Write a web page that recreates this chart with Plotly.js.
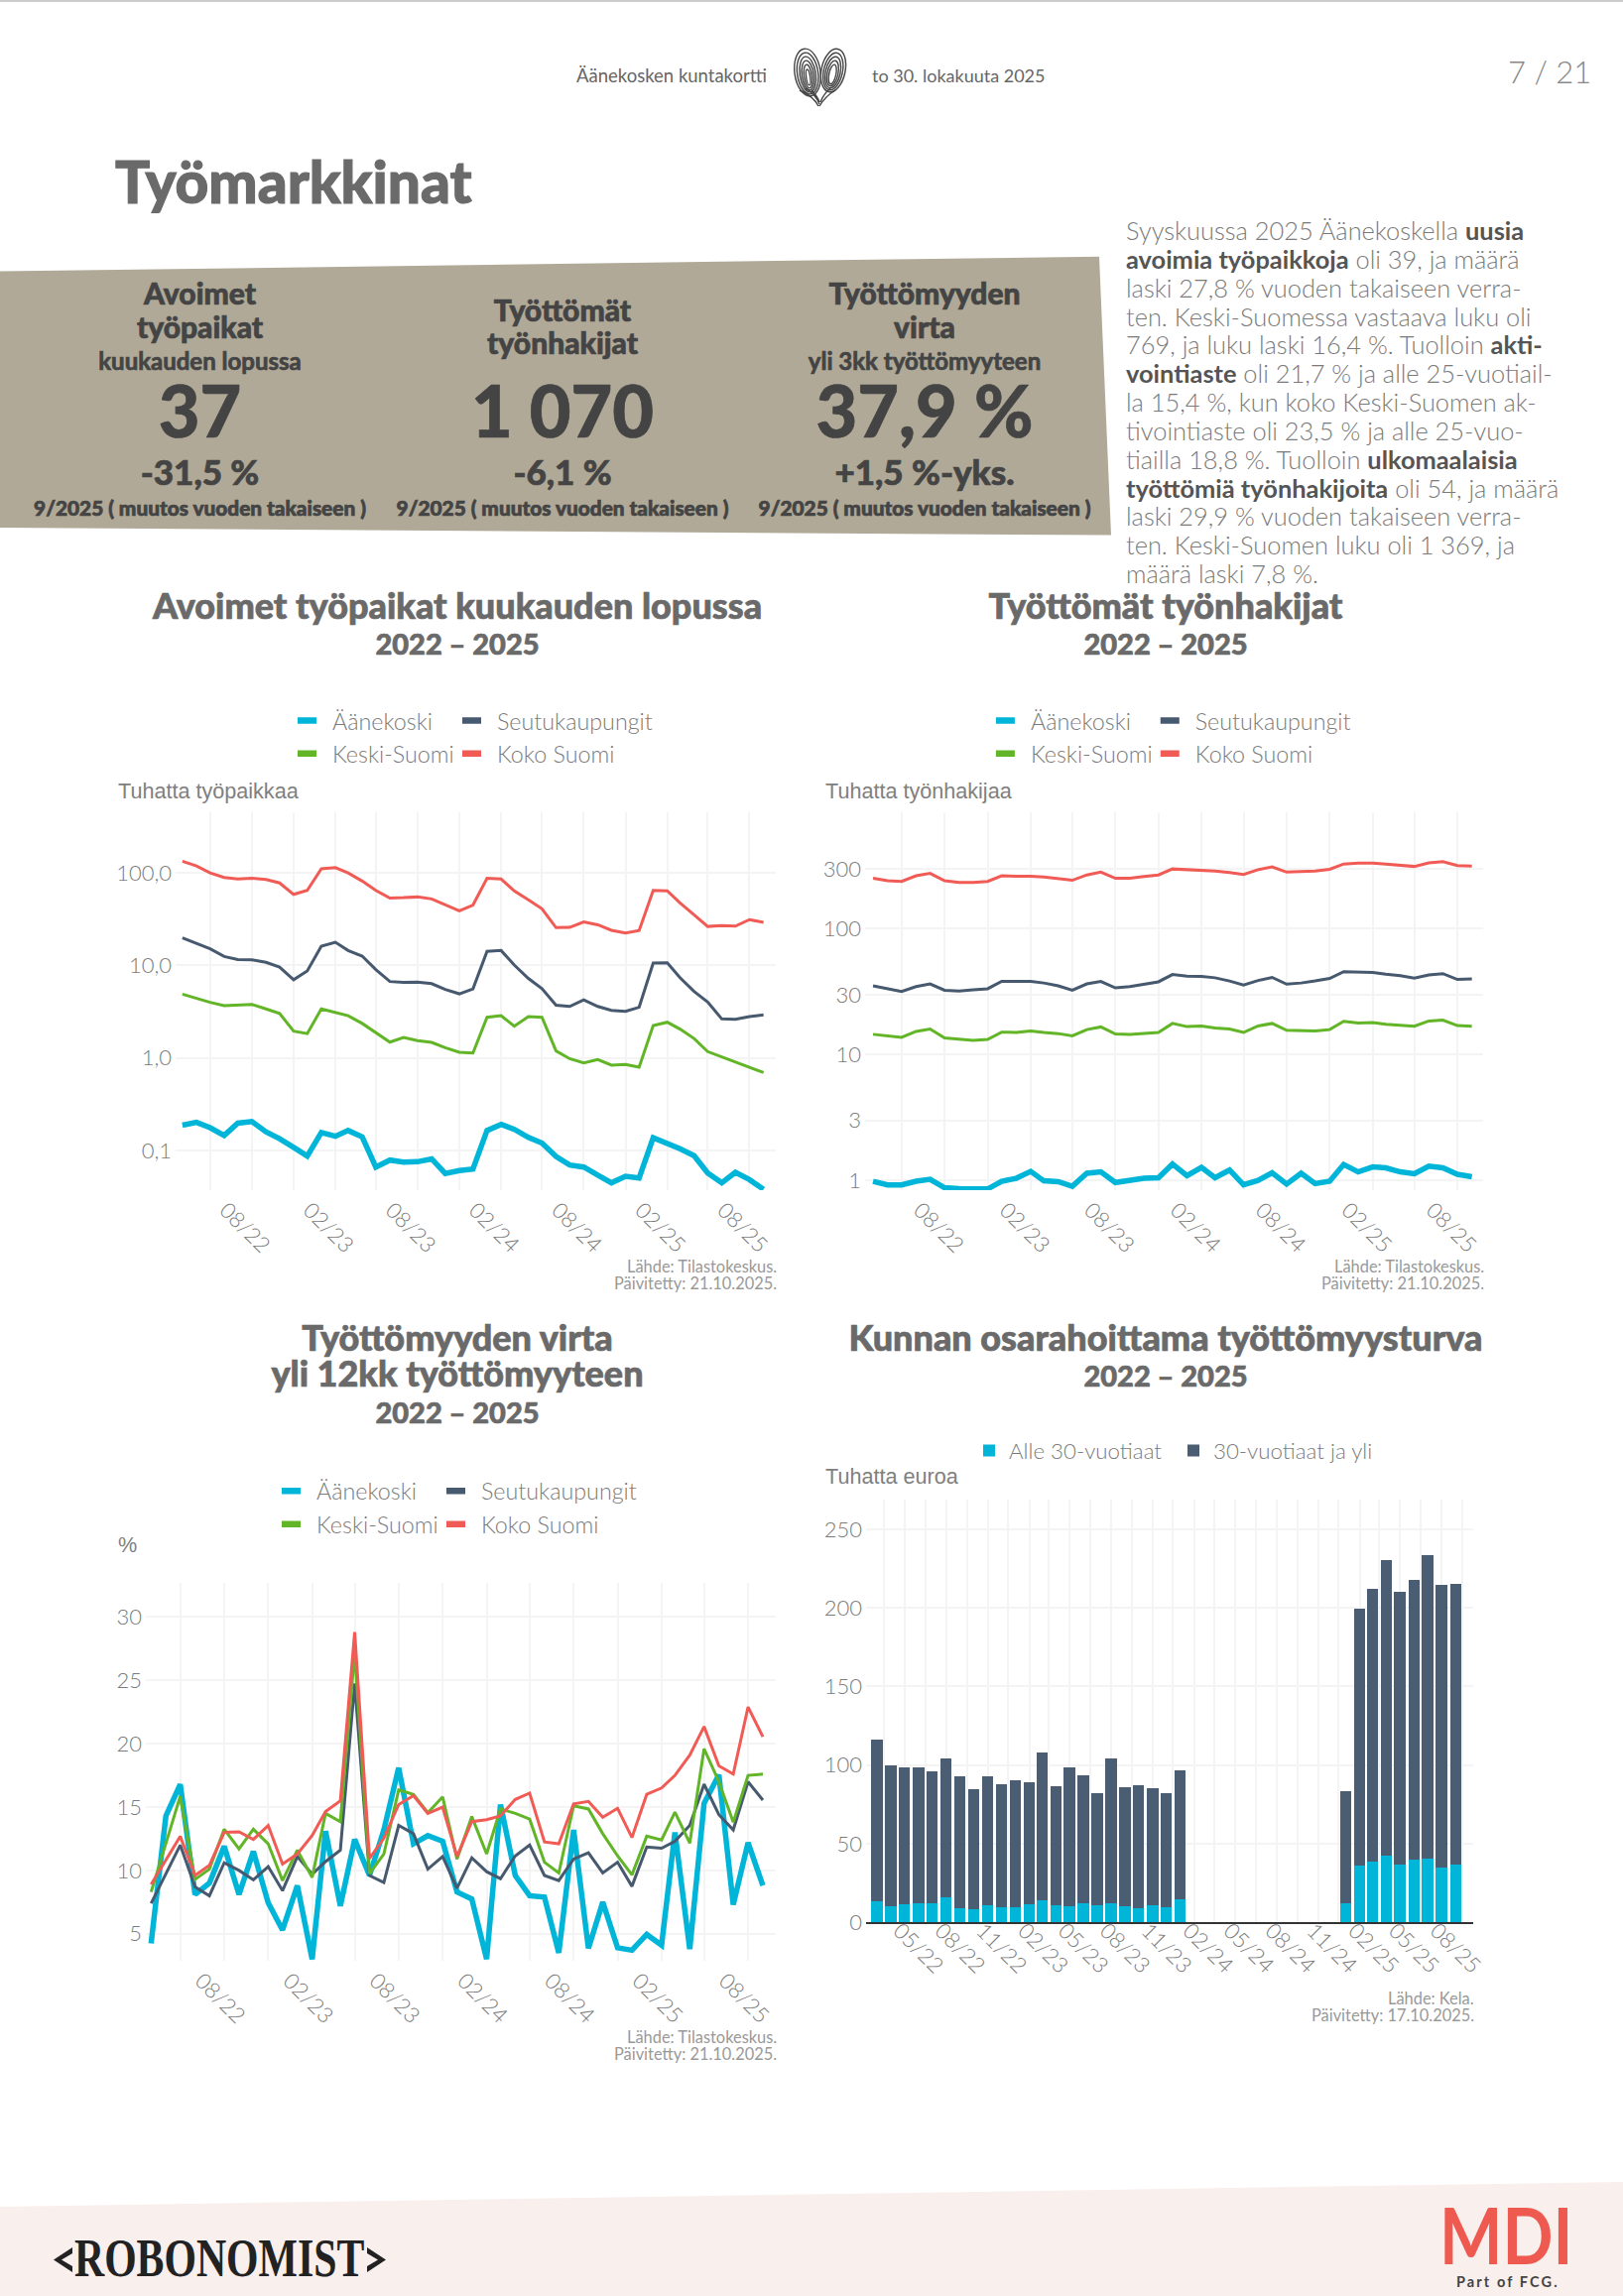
<!DOCTYPE html>
<html lang="fi"><head><meta charset="utf-8">
<script src="https://cdn.plot.ly/plotly-3.0.1.min.js"></script>
<style>
html,body{margin:0;padding:0;background:#fff}
#page{position:relative;width:1636px;height:2315px;overflow:hidden;font-family:Lato,"Noto Sans",sans-serif;color:#666}
.abs{position:absolute;white-space:nowrap}
.c{transform:translate(-50%,-50%);text-align:center}
.chart{position:absolute}
.k{color:#444;font-weight:900;-webkit-text-stroke:.7px #444}
#para{left:1135px;top:218px;font-size:25.4px;line-height:28.85px;color:#7a7a7a;font-weight:300}
#para b{color:#555;font-weight:700}
.gtitle{stroke:#6a6a6a;stroke-width:.7px}
.legendlines path{stroke-width:6.5px!important;stroke-dasharray:19 40!important}
path.legendbar{d:path("M9,9H-9V-9H9Z")}
</style></head><body>
<div id="page">
<div class="abs" style="left:0;top:0;width:1636px;height:2px;background:#ccc"></div>
<div class="abs" style="left:581px;top:65px;font-size:18.5px;color:#666">Äänekosken kuntakortti</div>
<svg class="abs" style="left:798px;top:47px" width="60" height="62" viewBox="0 0 60 62" fill="none" stroke="#444" stroke-width="1.4">
<g transform="rotate(-8 16 26)"><ellipse cx="16" cy="26" rx="13" ry="24"/><ellipse cx="16" cy="27" rx="10.5" ry="21"/><ellipse cx="16" cy="28" rx="8" ry="18"/><ellipse cx="16" cy="29" rx="6" ry="15"/><ellipse cx="16" cy="30" rx="4" ry="12"/><ellipse cx="16" cy="31" rx="2" ry="8"/></g>
<g transform="rotate(12 42 24)"><ellipse cx="42" cy="24" rx="12" ry="22"/><ellipse cx="42" cy="25" rx="9.5" ry="19"/><ellipse cx="42" cy="26" rx="7.5" ry="16"/><ellipse cx="42" cy="27" rx="5.5" ry="13"/><ellipse cx="42" cy="28" rx="3.5" ry="10"/></g>
<path d="M8 44 Q22 50 27 60 M14 42 Q24 48 28 58 M20 44 Q26 50 28 56 M44 44 Q34 50 28 60 M39 42 Q32 48 29 56" />
</svg>
<div class="abs" style="left:879px;top:65px;font-size:18px;color:#666">to 30. lokakuuta 2025</div>
<div class="abs" style="left:1520px;top:53px;font-size:31px;color:#888;font-weight:300">7 / 21</div>
<div class="abs" style="left:116px;top:148.5px;font-size:58.5px;font-weight:900;color:#6a6a6a;line-height:66px;-webkit-text-stroke:1.1px #6a6a6a">Työmarkkinat</div>

<svg class="abs" style="left:0;top:0" width="1636" height="600"><polygon points="0,273.6 1108,258.7 1120,539.6 0,532" fill="#b0a997"/></svg>
<div class="abs c k" style="left:201.5px;top:295px;font-size:30px">Avoimet</div>
<div class="abs c k" style="left:201.5px;top:328.5px;font-size:30px">työpaikat</div>
<div class="abs c k" style="left:201.5px;top:363px;font-size:24px;font-weight:700">kuukauden lopussa</div>
<div class="abs c k" style="left:201.5px;top:413px;font-size:72px">37</div>
<div class="abs c k" style="left:201.5px;top:475px;font-size:35px">-31,5 %</div>
<div class="abs c k" style="left:201.5px;top:510.5px;font-size:20.8px">9/2025 ( muutos vuoden takaiseen )</div>
<div class="abs c k" style="left:567px;top:311.5px;font-size:30px">Työttömät</div>
<div class="abs c k" style="left:567px;top:345px;font-size:30px">työnhakijat</div>
<div class="abs c k" style="left:567px;top:413px;font-size:72px">1 070</div>
<div class="abs c k" style="left:567px;top:475px;font-size:35px">-6,1 %</div>
<div class="abs c k" style="left:567px;top:510.5px;font-size:20.8px">9/2025 ( muutos vuoden takaiseen )</div>
<div class="abs c k" style="left:932px;top:295px;font-size:30px">Työttömyyden</div>
<div class="abs c k" style="left:932px;top:328.5px;font-size:30px">virta</div>
<div class="abs c k" style="left:932px;top:363px;font-size:24px;font-weight:700">yli 3kk työttömyyteen</div>
<div class="abs c k" style="left:932px;top:413px;font-size:72px">37,9 %</div>
<div class="abs c k" style="left:932px;top:475px;font-size:35px">+1,5 %-yks.</div>
<div class="abs c k" style="left:932px;top:510.5px;font-size:20.8px">9/2025 ( muutos vuoden takaiseen )</div>

<div class="abs" id="para">Syyskuussa 2025 Äänekoskella <b>uusia</b><br><b>avoimia työpaikkoja</b> oli 39, ja määrä<br>laski 27,8 % vuoden takaiseen verra-<br>ten. Keski-Suomessa vastaava luku oli<br>769, ja luku laski 16,4 %. Tuolloin <b>akti-</b><br><b>vointiaste</b> oli 21,7 % ja alle 25-vuotiail-<br>la 15,4 %, kun koko Keski-Suomen ak-<br>tivointiaste oli 23,5 % ja alle 25-vuo-<br>tiailla 18,8 %. Tuolloin <b>ulkomaalaisia</b><br><b>työttömiä työnhakijoita</b> oli 54, ja määrä<br>laski 29,9 % vuoden takaiseen verra-<br>ten. Keski-Suomen luku oli 1 369, ja<br>määrä laski 7,8 %.</div>

<div class="chart" id="c1" style="left:100px;top:570px;width:720px;height:740px"></div>
<div class="chart" id="c2" style="left:830px;top:570px;width:700px;height:740px"></div>
<div class="chart" id="c3" style="left:100px;top:1310px;width:720px;height:780px"></div>
<div class="chart" id="c4" style="left:830px;top:1310px;width:700px;height:780px"></div>

<svg class="abs" style="left:0;top:2190px" width="1636" height="125"><polygon points="0,35 1636,10 1636,125 0,125" fill="#f9efed"/><polygon points="54,88.5 73,76 73,82 62,88.5 73,95 73,101" fill="#222"/><polygon points="389,88.5 370,76 370,82 381,88.5 370,95 370,101" fill="#222"/></svg>
<div class="abs" style="left:75px;top:2246px;font-family:'Liberation Serif',serif;font-weight:700;font-size:54.5px;line-height:62px;color:#222;transform:scaleX(.766);transform-origin:left top">ROBONOMIST</div>
<div class="abs" style="left:1451px;top:2205px;font-size:79px;line-height:95px;font-weight:700;color:#ee5a50;transform:scaleX(.85);transform-origin:left top">MDI</div>
<div class="abs" style="left:1468px;top:2292px;font-size:14.5px;font-weight:700;color:#444;letter-spacing:2.1px">Part of FCG.</div>
</div>
<script>
const months=["2022-03-01","2022-04-01","2022-05-01","2022-06-01","2022-07-01","2022-08-01","2022-09-01","2022-10-01","2022-11-01","2022-12-01","2023-01-01","2023-02-01","2023-03-01","2023-04-01","2023-05-01","2023-06-01","2023-07-01","2023-08-01","2023-09-01","2023-10-01","2023-11-01","2023-12-01","2024-01-01","2024-02-01","2024-03-01","2024-04-01","2024-05-01","2024-06-01","2024-07-01","2024-08-01","2024-09-01","2024-10-01","2024-11-01","2024-12-01","2025-01-01","2025-02-01","2025-03-01","2025-04-01","2025-05-01","2025-06-01","2025-07-01","2025-08-01","2025-09-01"];
const seriesNames=["Äänekoski","Seutukaupungit","Keski-Suomi","Koko Suomi"];
const seriesColors=["#00b5d8","#47596f","#62b527","#f15b55"];

const jobsAane=[.187,.201,.176,.145,.197,.205,.159,.134,.108,.087,.156,.142,.164,.14,.066,.0785,.0746,.0754,.081,.0562,.0604,.0628,.164,.191,.169,.138,.12,.0859,.0695,.066,.054,.0446,.0524,.0503,.137,.12,.104,.0877,.0568,.0446,.058,.0483,.0379];
const jobsSeutu=[19.9,17.4,15.1,12.5,11.6,11.5,10.8,9.6,7.0,8.7,16.1,17.8,14.5,12.6,9.0,6.7,6.55,6.6,6.35,5.5,4.93,5.57,14.2,14.5,10.1,7.24,5.62,3.72,3.6,4.24,3.6,3.26,3.19,3.53,10.6,10.7,7.38,5.24,4.03,2.64,2.61,2.8,2.92];
const jobsKeski=[4.89,4.41,3.99,3.68,3.76,3.79,3.39,3.03,1.95,1.83,3.39,3.13,2.86,2.36,1.87,1.48,1.66,1.54,1.47,1.29,1.15,1.13,2.75,2.86,2.2,2.8,2.75,1.19,.98,.885,.96,.834,.851,.793,2.24,2.43,2.05,1.62,1.17,1.03,.914,.80,.695];
const jobsKoko=[134,119,100,89.5,86,87.7,85,78,58.6,64.8,111,114,100,81.7,64.8,53.5,54,55,52.4,45.5,39,45,87.7,86,64,51.3,41,25.6,25.8,29.5,27.5,24,22.4,23.8,64.8,64,47.4,35.3,26.4,26.9,26.6,31.3,29.2];

const seekAane=[.985,.922,.922,.985,1.02,.875,.862,.862,.856,.985,1.04,1.18,.993,.978,.90,1.14,1.17,.964,1.0,1.04,1.05,1.35,1.09,1.27,1.05,1.21,.922,1,1.15,.936,1.14,.943,.985,1.34,1.17,1.28,1.26,1.17,1.13,1.30,1.26,1.12,1.07];
const seekSeutu=[35.2,33.4,31.8,34.7,36.5,32.5,32,32.7,33.4,38.2,38.2,38.2,37.1,35.2,32.5,36.5,38.2,33.9,34.7,36.3,37.9,43.3,42.1,41.8,40.8,38.5,35.7,38.8,41.1,36.3,37.1,38.5,40.3,45.6,45.3,45,43.6,42.4,40.5,43,44,39.6,39.9];
const seekKeski=[14.5,14,13.7,15.3,16,13.6,13.2,13,13.2,15.1,15,15.4,15,14.7,14.1,15.8,16.6,14.6,14.5,14.7,15,17.7,16.7,16.9,16.3,16,15,16.9,17.7,15.6,15.5,15.4,15.8,18.4,17.8,18,17.4,17,16.8,18.5,18.8,17,16.8];
const seekKoko=[252,241,238,264,276,241,234,234,238,264,262,262,258,250,243,268,282,252,252,260,268,299,295,293,288,280,270,295,310,282,284,288,297,327,332,332,327,320,313,334,342,318,315];

const flowAane=[4.24,14.3,16.8,8.1,9.0,11.9,8.1,11.5,7.45,5.3,8.8,3.0,13.1,7.2,12.45,9.6,13.2,18.1,12.1,12.75,12.3,8.3,7.75,3.0,15.2,9.6,8.0,7.9,3.5,13.2,3.85,7.5,3.9,3.7,4.95,4.1,13.0,3.8,15.3,17.55,7.3,12.2,8.8];
const flowSeutu=[7.4,9.75,12,8.7,8,10.6,10,9.25,10.3,8.4,11.1,9.7,10.7,11.6,24.75,9.6,9.05,13.55,12.9,10.1,11.1,8.6,11,9.9,9.35,11.15,12,9.6,9.2,10.9,11.4,9.8,10.65,8.75,11.85,11.75,12.3,13.55,16.8,14.4,13.2,17,15.55];
const flowKeski=[8.3,12.1,15.85,9.3,10.1,13.25,11.7,13.25,12.1,9.2,11.6,9.45,14.5,13.85,27.2,9.75,11.3,16.35,16,14.55,15.8,10.9,14.25,11.3,14.85,14.5,14.05,10.65,9.8,15.1,14.85,12.9,11.15,9.65,12.7,12.4,14.6,12.15,19.6,17,13.8,17.5,17.6];
const flowKoko=[8.9,10.85,12.7,9.6,10.4,13,13.05,12.45,13.55,10.5,11.3,12.75,14.65,15.5,28.8,10.95,12.55,15.2,15.9,14.5,15,11.1,13.85,14,14.3,15.6,16.1,12.25,12.1,15.25,15.45,14.2,14.9,12.6,16,16.5,17.5,19.1,21.35,18.25,17.6,22.9,20.55];

const under30=[13.25,10.25,11.25,12,12.25,16,8.75,8,10.5,9.25,9.75,11.5,13.75,11,10,12,10.5,12,10,8.75,10.75,9.5,14.5,null,null,null,null,null,null,null,null,null,null,null,12.25,35.75,38.25,42,36.5,39.75,40.25,34.75,36.5];
const over30=[102.75,89.75,87,86.25,84,88,84,76.5,82.5,78.5,80.75,77.75,94.25,75.25,88.25,81.25,71.75,92.5,76,78.25,74.75,72.5,82.25,null,null,null,null,null,null,null,null,null,null,null,71.25,163.75,173.75,188.25,173.5,178.25,193.5,180,179];

const lineTickVals=["2022-05-01","2022-08-01","2022-11-01","2023-02-01","2023-05-01","2023-08-01","2023-11-01","2024-02-01","2024-05-01","2024-08-01","2024-11-01","2025-02-01","2025-05-01","2025-08-01"];
const lineTickText=["","08/22","","02/23","","08/23","","02/24","","08/24","","02/25","","08/25"];
const barTickVals=["2022-03-16","2022-05-01","2022-06-16","2022-08-01","2022-09-16","2022-11-01","2022-12-16","2023-02-01","2023-03-16","2023-05-01","2023-06-16","2023-08-01","2023-09-16","2023-11-01","2023-12-16","2024-02-01","2024-03-16","2024-05-01","2024-06-16","2024-08-01","2024-09-16","2024-11-01","2024-12-16","2025-02-01","2025-03-16","2025-05-01","2025-06-16","2025-08-01","2025-09-16"];
const barTickText=["","05/22","","08/22","","11/22","","02/23","","05/23","","08/23","","11/23","","02/24","","05/24","","08/24","","11/24","","02/25","","05/25","","08/25",""];

const GRID="#f4f4f5",TXT="#7b7b7b",FONT="Lato, 'Noto Sans', sans-serif";
function build(id,box,plot,o){
  const sy=v=>(plot.b-v)/(plot.b-plot.t);
  const L={
    width:box.w,height:box.h,autosize:false,paper_bgcolor:"rgba(0,0,0,0)",plot_bgcolor:"rgba(0,0,0,0)",
    margin:{l:plot.l-box.x,r:box.x+box.w-plot.r,t:plot.t-box.y,b:box.y+box.h-plot.b,pad:0},
    font:{family:FONT,color:TXT,size:22},
    title:{text:o.title,xref:"container",yref:"container",x:(o.cx-box.x)/box.w,xanchor:"center",y:1-(o.titleTop-box.y)/box.h,yanchor:"top",font:{family:FONT,size:28,weight:900,color:"#6a6a6a"}},
    xaxis:{type:"date",range:o.xr,tickmode:"array",tickvals:o.tv,ticktext:o.tt,tickangle:45,ticks:"",showgrid:true,gridcolor:GRID,gridwidth:2,zeroline:false,showline:o.axisLine||false,linecolor:"#333",linewidth:2,ticklabelshift:o.shift,ticklabelstandoff:o.standoff,tickfont:{size:o.tickSize||22,color:TXT,family:FONT,weight:300}},
    yaxis:Object.assign({ticks:"",showgrid:true,gridcolor:GRID,gridwidth:2,zeroline:false,automargin:false,ticklabelstandoff:3,tickfont:{size:22,color:TXT,family:FONT,weight:300}},o.y),
    showlegend:true,
    annotations:[
      {text:o.unit,xref:"paper",yref:"paper",x:(o.unitX-plot.l)/(plot.r-plot.l),y:sy(o.unitY),xanchor:"left",yanchor:"middle",showarrow:false,font:{family:"'Liberation Sans',Arial,sans-serif",size:21.6,color:"#808080"}},
      {text:o.source[0],xref:"paper",yref:"paper",x:1,xshift:3,y:sy(o.srcY),xanchor:"right",yanchor:"middle",showarrow:false,font:{family:FONT,size:16.4,color:"#999"}},
      {text:o.source[1],xref:"paper",yref:"paper",x:1,xshift:3,y:sy(o.srcY+17.5),xanchor:"right",yanchor:"middle",showarrow:false,font:{family:FONT,size:16.4,color:"#999"}}
    ]
  };
  Object.assign(L,o.legends);
  if(o.barmode){L.barmode=o.barmode;}
  Plotly.newPlot(id,o.traces,L,{displayModeBar:false,staticPlot:true});
}
const legendOf=[ "legend","legend2","legend","legend2" ];
function lines(vals){
  return vals.map((v,i)=>({type:"scatter",mode:"lines",name:seriesNames[i],x:months,y:v,legend:legendOf[i],legendgroup:"g"+i,line:{color:seriesColors[i],width:i===0?5.5:3,shape:"linear"}}));
}
function legendPair(plot,x,pitch,yMid){
  const f=(x0)=>({orientation:"v",x:(x0-plot.l)/(plot.r-plot.l),y:(plot.b-yMid)/(plot.b-plot.t),xanchor:"left",yanchor:"middle",itemwidth:30,tracegroupgap:1,traceorder:"normal",bgcolor:"rgba(0,0,0,0)",font:{size:23.3,color:TXT,family:FONT,weight:300}});
  return {legend:f(x),legend2:f(x+pitch)};
}
const p1={l:177,r:782,t:818.8,b:1200.4},p2={l:872,r:1495.5,t:818.8,b:1200.4},p3={l:147,r:782,t:1595.9,b:1977.4},p4={l:873,r:1485,t:1512.4,b:1937.8};
const srcLines=["Lähde: Tilastokeskus.","Päivitetty: 21.10.2025."];
const sub=s=>"<span style='font-size:29px'>"+s+"</span>";

build("c1",{x:100,y:570,w:720,h:740},p1,{title:"<span style='font-size:36px'>Avoimet työpaikat kuukauden lopussa</span><br>"+sub("2022 – 2025"),cx:461,titleTop:624,
  xr:["2022-02-14","2025-09-28"],tv:lineTickVals,tt:lineTickText,shift:-26,standoff:2,
  y:{type:"log",range:[-1.43,2.656],tickmode:"array",tickvals:[.1,1,10,100],ticktext:["0,1","1,0","10,0","100,0"]},
  unit:"Tuhatta työpaikkaa",unitX:116.5,unitY:797.6,source:srcLines,srcY:1276.7,
  legends:legendPair(p1,295,166,743),traces:lines([jobsAane,jobsSeutu,jobsKeski,jobsKoko])});

build("c2",{x:830,y:570,w:700,h:740},p2,{title:"<span style='font-size:36px'>Työttömät työnhakijat</span><br>"+sub("2022 – 2025"),cx:1175,titleTop:624,
  xr:["2022-02-12","2025-09-25"],tv:lineTickVals,tt:lineTickText,shift:-25,standoff:2,
  y:{type:"log",range:[-.077,2.926],tickmode:"array",tickvals:[1,3,10,30,100,300],ticktext:["1","3","10","30","100","300"]},
  unit:"Tuhatta työnhakijaa",unitX:830,unitY:797.6,source:srcLines,srcY:1276.7,
  legends:legendPair(p2,999,166,743),traces:lines([seekAane,seekSeutu,seekKeski,seekKoko])});

build("c3",{x:100,y:1310,w:720,h:780},p3,{title:"<span style='font-size:36px'>Työttömyyden virta</span><br><span style='font-size:36px'>yli 12kk työttömyyteen</span><br>"+sub("2022 – 2025"),cx:461,titleTop:1362,
  xr:["2022-02-18","2025-09-28"],tv:lineTickVals,tt:lineTickText,shift:-23,standoff:2,
  y:{range:[2.87,32.69],tickmode:"array",tickvals:[5,10,15,20,25,30],ticktext:["5","10","15","20","25","30"]},
  unit:"%",unitX:116.5,unitY:1557,source:srcLines,srcY:2054,
  legends:legendPair(p3,279,166,1520),traces:lines([flowAane,flowSeutu,flowKeski,flowKoko])});

build("c4",{x:830,y:1310,w:700,h:780},p4,{title:"<span style='font-size:36px'>Kunnan osarahoittama työttömyysturva</span><br>"+sub("2022 – 2025"),cx:1175,titleTop:1362,
  xr:["2022-02-05","2025-10-10"],tv:barTickVals,tt:barTickText,shift:-5,standoff:-15,axisLine:true,barmode:"stack",
  y:{range:[0,269],tickmode:"array",tickvals:[0,50,100,150,200,250],ticktext:["0","50","100","150","200","250"]},
  unit:"Tuhatta euroa",unitX:830,unitY:1488.6,source:["Lähde: Kela.","Päivitetty: 17.10.2025."],srcY:2014,
  legends:{legend:{orientation:"h",x:(977-p4.l)/(p4.r-p4.l),y:(p4.b-1463)/(p4.b-p4.t),xanchor:"left",yanchor:"middle",traceorder:"normal",entrywidth:161,entrywidthmode:"pixels",bgcolor:"rgba(0,0,0,0)",font:{size:22.3,color:TXT,family:FONT,weight:300}}},
  traces:[
    {type:"bar",name:"Alle 30-vuotiaat",x:months,y:under30,width:months.map(()=>2160000000),marker:{color:seriesColors[0],line:{width:0}}},
    {type:"bar",name:"30-vuotiaat ja yli",x:months,y:over30,width:months.map(()=>2160000000),marker:{color:"#4a5d73",line:{width:0}}}
  ]});
</script>
</body></html>
